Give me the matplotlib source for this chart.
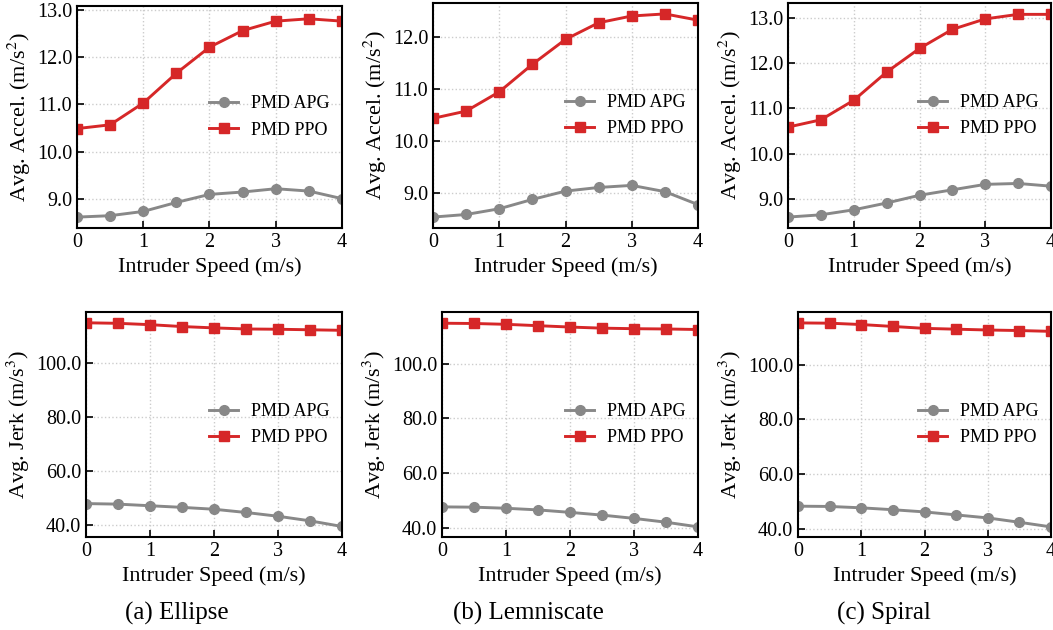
import matplotlib.pyplot as plt
import numpy as np

plt.rcParams['font.family'] = ['Liberation Serif', 'DejaVu Serif']
plt.rcParams['mathtext.fontset'] = 'stix'

speed = [0, 0.5, 1, 1.5, 2, 2.5, 3, 3.5, 4]

# avg. acceleration (m/s^2)
acc_apg_ellipse = [8.62, 8.65, 8.74, 8.93, 9.10, 9.15, 9.22, 9.17, 9.01]
acc_ppo_ellipse = [10.49, 10.57, 11.03, 11.66, 12.21, 12.56, 12.76, 12.81, 12.76]
acc_apg_lemni = [8.53, 8.58, 8.69, 8.87, 9.03, 9.10, 9.14, 9.02, 8.77]
acc_ppo_lemni = [10.43, 10.57, 10.94, 11.47, 11.95, 12.27, 12.40, 12.44, 12.32]
acc_apg_spiral = [8.61, 8.66, 8.77, 8.92, 9.09, 9.21, 9.33, 9.35, 9.29]
acc_ppo_spiral = [10.59, 10.75, 11.18, 11.80, 12.32, 12.74, 12.97, 13.07, 13.07]

# avg. jerk (m/s^3)
jerk_apg_ellipse = [48.0, 47.8, 47.2, 46.6, 45.9, 44.7, 43.3, 41.6, 39.5]
jerk_ppo_ellipse = [115.1, 114.9, 114.4, 113.7, 113.2, 112.8, 112.7, 112.5, 112.3]
jerk_apg_lemni = [47.7, 47.6, 47.2, 46.6, 45.7, 44.7, 43.5, 42.1, 40.4]
jerk_ppo_lemni = [114.8, 114.7, 114.4, 113.9, 113.4, 113.0, 112.8, 112.7, 112.5]
jerk_apg_spiral = [48.2, 48.1, 47.6, 46.9, 46.1, 45.0, 43.9, 42.3, 40.6]
jerk_ppo_spiral = [115.4, 115.3, 114.8, 114.1, 113.4, 113.1, 112.8, 112.6, 112.3]

captions = ['(a) Ellipse', '(b) Lemniscate', '(c) Spiral']

W, H = 1053, 630
fig = plt.figure(figsize=(W / 100, H / 100), dpi=100)

GRAY = '#888888'
RED = '#d62728'


def px_axes(x0, y0, x1, y1):
    # pixel box (top-left origin) -> figure fractions
    return fig.add_axes([x0 / W, 1 - y1 / H, (x1 - x0) / W, (y1 - y0) / H])


def draw(ax, apg, ppo, ylabel, ylim, yticks, fmt):
    ax.plot(speed, apg, color=GRAY, marker='o', markersize=7, lw=2.1, label='PMD APG')
    ax.plot(speed, ppo, color=RED, marker='s', markersize=7, lw=2.1, label='PMD PPO')
    ax.set_xlim(0, 4)
    ax.set_ylim(*ylim)
    ax.set_xticks([0, 1, 2, 3, 4])
    ax.set_yticks(yticks)
    ax.set_yticklabels([fmt % v for v in yticks])
    ax.tick_params(direction='in', labelsize=14.5, length=5, width=1.2)
    ax.grid(True, linestyle=':', color='#cccccc', lw=1)
    for s in ax.spines.values():
        s.set_linewidth(1.5)
    ax.set_xlabel('Intruder Speed (m/s)', fontsize=16, labelpad=4)
    ax.set_ylabel(ylabel, fontsize=16, labelpad=3)
    ax.legend(loc='center right', frameon=False, fontsize=13,
              handlelength=1.6, handletextpad=0.7, borderaxespad=0.3)


acc_lab = 'Avg. Accel. (m/s$^2$)'
jerk_lab = 'Avg. Jerk (m/s$^3$)'

top_boxes = [(77, 6, 342, 228), (433, 3, 698, 228), (788, 3, 1051, 228)]
bot_boxes = [(86, 312, 342, 537), (442, 312, 698, 537), (798, 312, 1051, 537)]

acc_sets = [(acc_apg_ellipse, acc_ppo_ellipse, (8.39, 13.08), [9, 10, 11, 12, 13]),
            (acc_apg_lemni, acc_ppo_lemni, (8.32, 12.65), [9, 10, 11, 12]),
            (acc_apg_spiral, acc_ppo_spiral, (8.37, 13.32), [9, 10, 11, 12, 13])]
jerk_sets = [(jerk_apg_ellipse, jerk_ppo_ellipse, (35.6, 119.1)),
             (jerk_apg_lemni, jerk_ppo_lemni, (36.7, 118.9)),
             (jerk_apg_spiral, jerk_ppo_spiral, (36.9, 119.4))]

cap_x = [177, 528, 884]

for i in range(3):
    ax = px_axes(*top_boxes[i])
    apg, ppo, yl, yt = acc_sets[i]
    draw(ax, apg, ppo, acc_lab, yl, yt, '%.1f')

    ax = px_axes(*bot_boxes[i])
    apg, ppo, yl = jerk_sets[i]
    draw(ax, apg, ppo, jerk_lab, yl, [40, 60, 80, 100], '%.1f')

    fig.text(cap_x[i] / W, 1 - 613 / H, captions[i], fontsize=18,
             ha='center', va='center')

fig.savefig('out.png', dpi=100)
